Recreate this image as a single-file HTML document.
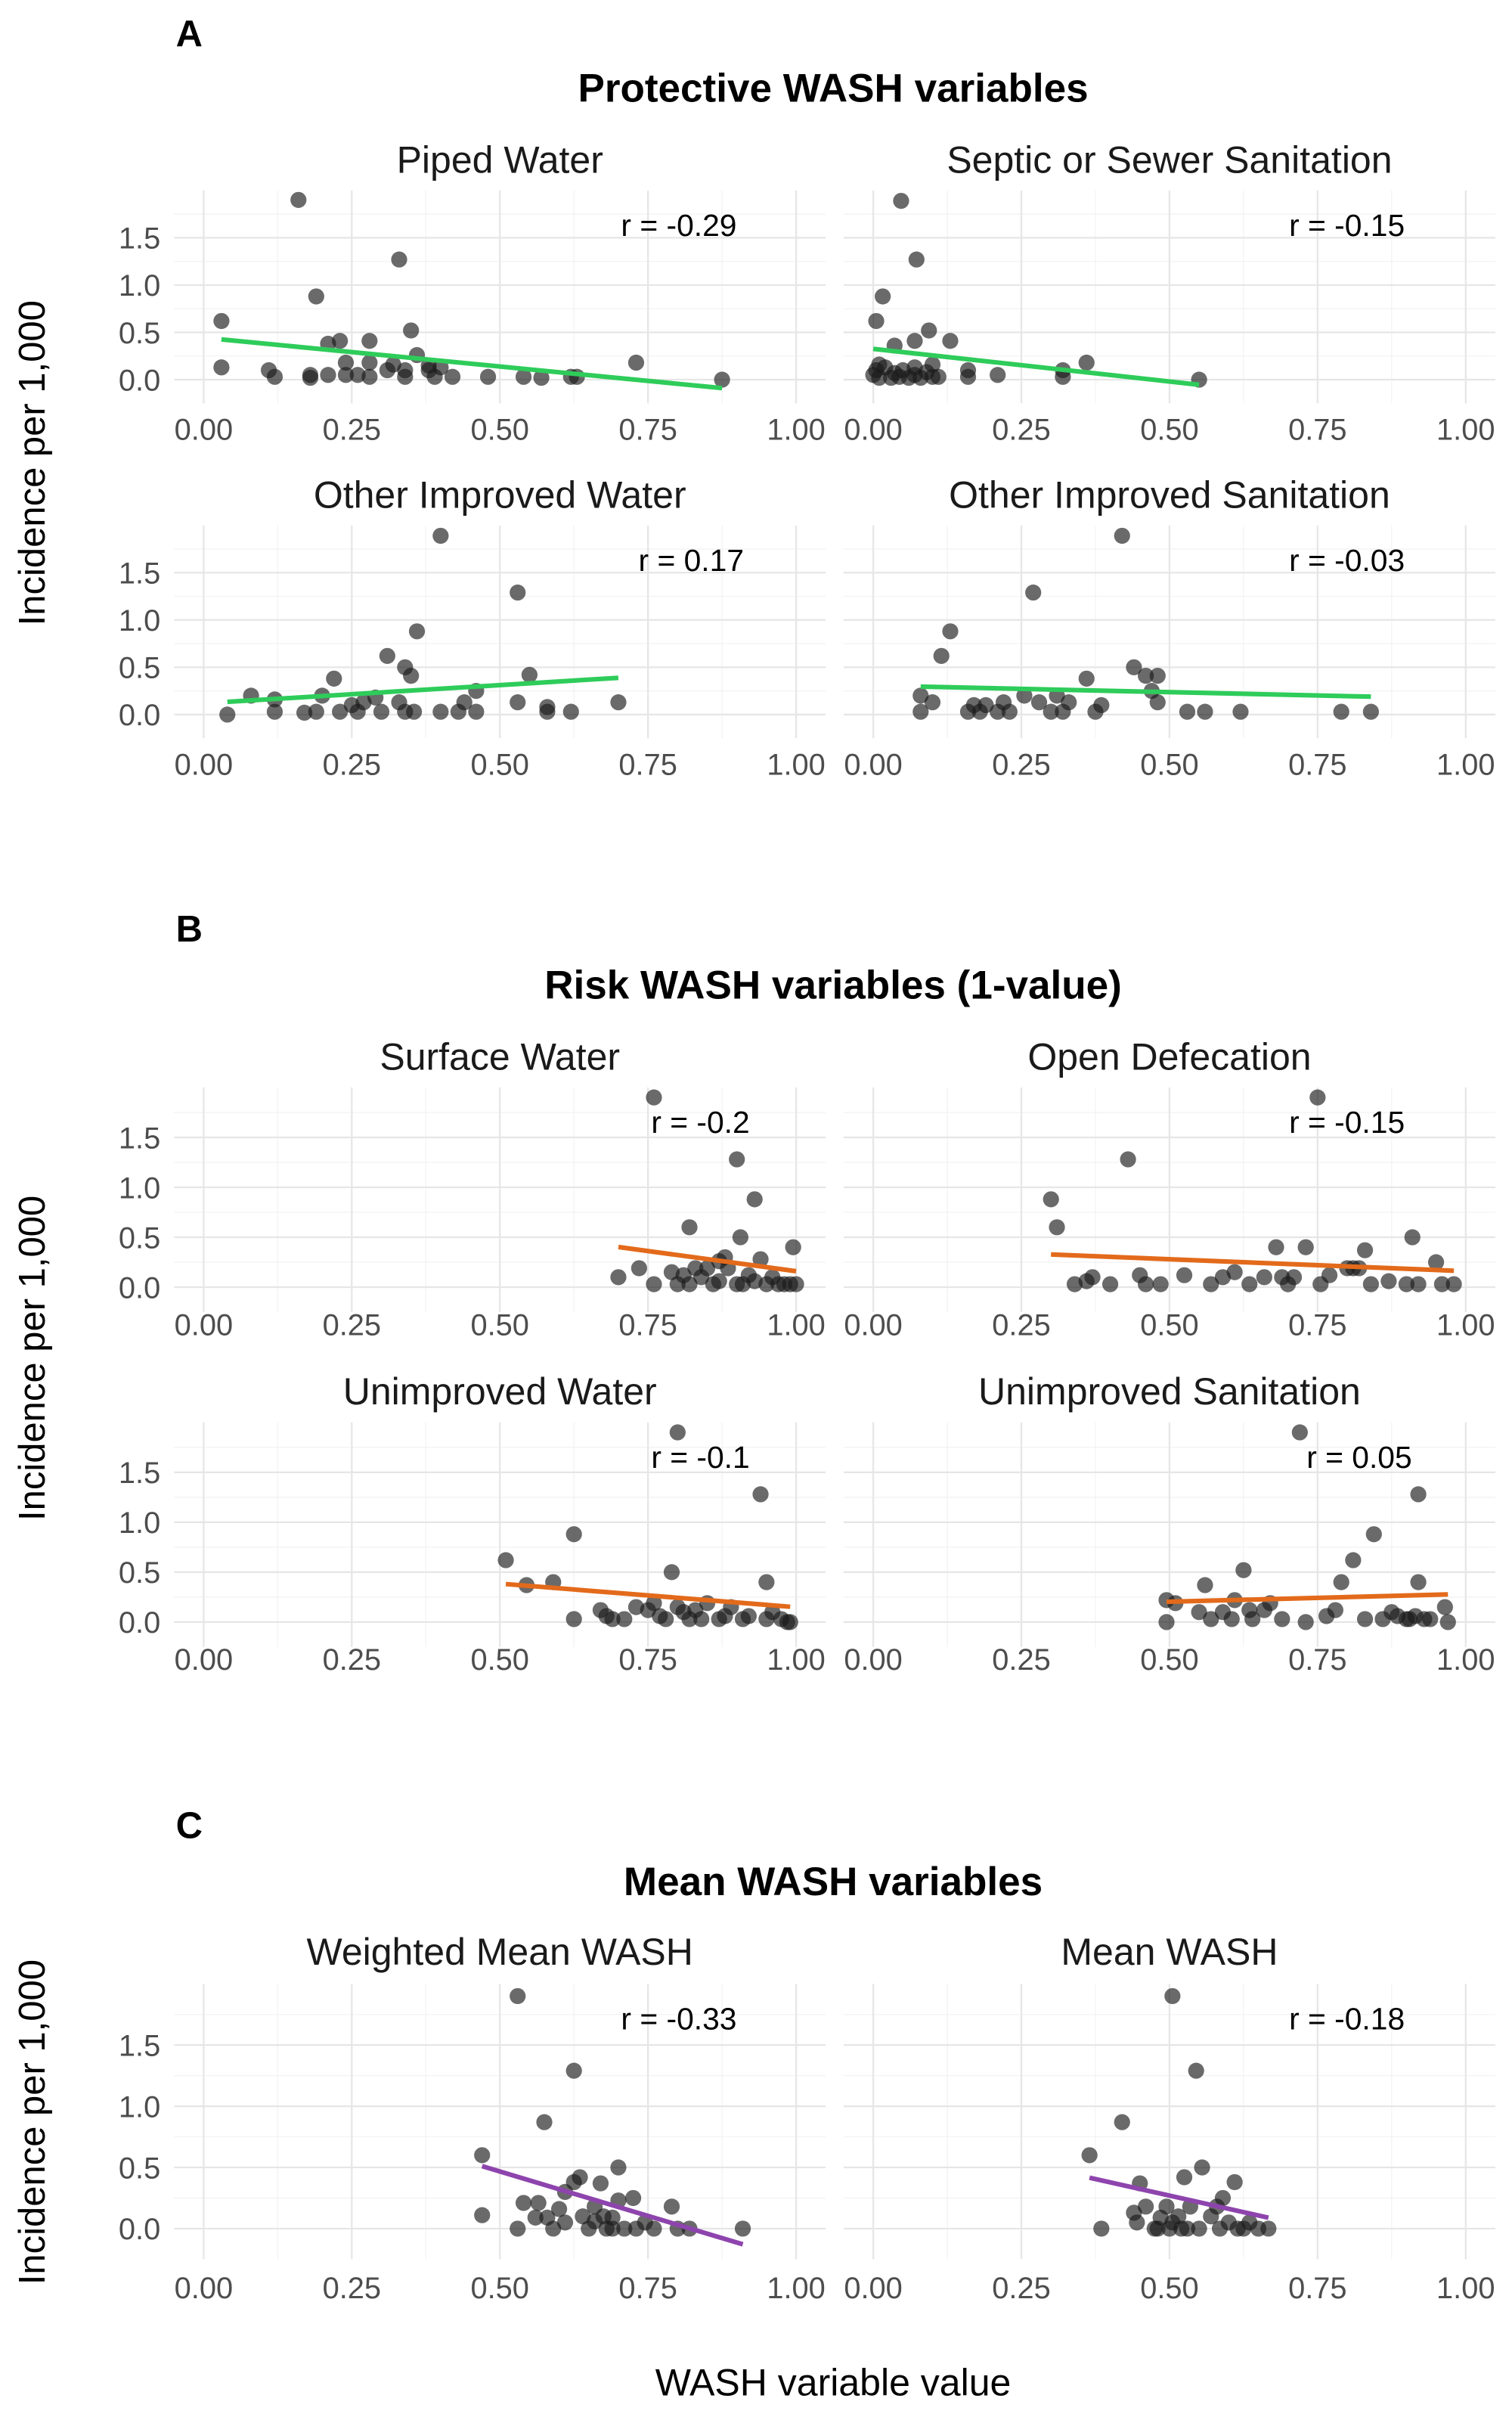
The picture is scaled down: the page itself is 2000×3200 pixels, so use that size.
<!DOCTYPE html>
<html><head><meta charset="utf-8">
<style>
html,body{margin:0;padding:0;background:#fff;}
svg{display:block;font-family:"Liberation Sans",Arial,sans-serif;}
</style></head>
<body>
<svg id="chart" width="2000" height="3200" viewBox="0 0 980 1568" preserveAspectRatio="none" xmlns="http://www.w3.org/2000/svg"></svg>
<script>
// ---------- data ----------
const yTickValues = [0, 0.5, 1.0, 1.5];
const yTickLabels = ["0.0", "0.5", "1.0", "1.5"];
const xTickValues = [0, 0.25, 0.5, 0.75, 1];
const xTickLabels = ["0.00", "0.25", "0.50", "0.75", "1.00"];
const facetTitles = ["Piped Water","Septic or Sewer Sanitation","Other Improved Water","Other Improved Sanitation","Surface Water","Open Defecation","Unimproved Water","Unimproved Sanitation","Weighted Mean WASH","Mean WASH"];
const rLabels = ["r = -0.29","r = -0.15","r = 0.17","r = -0.03","r = -0.2","r = -0.15","r = -0.1","r = 0.05","r = -0.33","r = -0.18"];

const pipedX = [.03,.03,.16,.19,.33,.35,.21,.23,.28,.11,.12,.18,.18,.21,.24,.24,.28,.28,.31,.32,.34,.36,.38,.39,.4,.42,.48,.54,.57,.62,.63,.73,.875,.26,.34,.38];
const pipedY = [.13,.62,1.9,.88,1.27,.52,.38,.41,.41,.1,.03,.05,.02,.05,.05,.18,.18,.03,.1,.16,.03,.26,.1,.03,.13,.03,.03,.03,.02,.03,.03,.18,0,.05,.1,.15];
const septicX = [.047,.073,.016,.005,.036,.07,.094,.13,.16,.21,.32,.36,.55,0,.005,.01,.02,.03,.036,.044,.05,.06,.07,.08,.09,.1,.1,.01,.16,.07,.11,.32];
const septicY = [1.89,1.27,.88,.62,.36,.41,.52,.41,.1,.05,.1,.18,0,.05,.1,.02,.13,.02,.07,.03,.1,.02,.05,.02,.08,.03,.16,.16,.03,.13,.03,.03];
const otherWaterX = [.04,.08,.12,.12,.17,.19,.2,.22,.23,.26,.27,.29,.31,.33,.34,.34,.35,.36,.355,.4,.4,.43,.44,.46,.46,.53,.53,.55,.58,.58,.62,.7,.30,.25];
const otherWaterY = [0,.2,.03,.16,.02,.03,.2,.38,.03,.03,.13,.18,.62,.13,.03,.5,.41,.88,.03,1.89,.03,.03,.13,.03,.25,.13,1.29,.42,.08,.03,.03,.13,.03,.1];
const otherSanX = [.08,.08,.1,.115,.13,.16,.17,.18,.21,.22,.23,.255,.27,.28,.3,.31,.32,.36,.375,.385,.42,.44,.46,.48,.47,.48,.53,.56,.62,.79,.84,.33,.19];
const otherSanY = [.2,.03,.13,.62,.88,.03,.1,.03,.03,.13,.03,.2,1.29,.13,.03,.2,.03,.38,.03,.1,1.89,.5,.41,.41,.25,.13,.03,.03,.03,.03,.03,.13,.1];
const surfaceX = [.7,.735,.76,.76,.8,.81,.82,.83,.85,.86,.87,.88,.885,.9,.9,.906,.91,.93,.93,.94,.95,.96,.97,.98,.99,.995,1,.84,.82,.87,.92,.79];
const surfaceY = [.1,.19,1.9,.03,.03,.12,.6,.19,.19,.03,.06,.3,.19,.03,1.28,.5,.03,.88,.06,.28,.03,.1,.03,.03,.03,.4,.03,.1,.03,.26,.12,.15];
const openDefX = [.3,.31,.43,.75,.34,.36,.37,.4,.45,.46,.485,.57,.59,.61,.635,.66,.68,.69,.71,.73,.755,.77,.8,.81,.82,.83,.84,.87,.9,.91,.92,.95,.96,.98,.525,.7];
const openDefY = [.88,.6,1.28,1.9,.03,.06,.1,.03,.12,.03,.03,.03,.1,.15,.03,.1,.4,.1,.1,.4,.03,.12,.19,.19,.19,.37,.03,.06,.03,.5,.03,.25,.03,.03,.12,.03];
const unimpWaterX = [.51,.545,.59,.625,.625,.67,.68,.69,.71,.73,.75,.77,.78,.79,.8,.8,.82,.83,.84,.85,.87,.88,.89,.91,.92,.94,.95,.95,.96,.975,.985,.99,.81,.76];
const unimpWaterY = [.62,.37,.4,.88,.03,.12,.06,.03,.03,.15,.12,.06,.03,.5,1.9,.15,.03,.12,.03,.19,.03,.06,.15,.03,.06,1.28,.03,.4,.1,.03,0,0,.1,.19];
const unimpSanX = [.495,.495,.51,.55,.56,.57,.59,.605,.61,.625,.635,.66,.67,.69,.72,.73,.765,.78,.79,.81,.83,.845,.86,.875,.885,.9,.905,.915,.92,.92,.93,.94,.965,.97,.64];
const unimpSanY = [.22,0,.19,.1,.37,.03,.1,.03,.22,.52,.12,.12,.19,.03,1.9,0,.06,.12,.4,.62,.03,.88,.03,.1,.06,.03,.03,.06,1.28,.4,.03,.03,.15,0,.03];
const weightedX = [.47,.47,.53,.54,.56,.53,.565,.575,.58,.59,.6,.61,.625,.625,.635,.64,.65,.66,.67,.68,.69,.7,.7,.71,.725,.73,.745,.76,.79,.8,.82,.91,.61,.66,.69,.675];
const weightedY = [.6,.11,1.9,.21,.09,0,.21,.87,.09,0,.16,.3,1.29,.38,.42,.1,0,.18,.37,0,.09,.23,.5,0,.25,0,.05,0,.18,0,0,0,.05,.06,0,.1];
const meanX = [.365,.385,.42,.44,.45,.445,.46,.475,.485,.495,.505,.505,.515,.52,.525,.535,.545,.55,.555,.57,.58,.585,.59,.6,.61,.615,.625,.635,.65,.667,.48,.53,.5];
const meanY = [.6,0,.87,.13,.37,.05,.18,0,.09,.18,1.9,.05,.1,0,.42,.18,1.29,0,.5,.1,.18,0,.25,.05,.38,0,0,.05,0,0,0,0,0];

// ---------- layout ----------
const rows = [
  {y0:246, k:61.3, titleY:104, tickY:278},
  {y0:463, k:61.3, titleY:321, tickY:495},
  {y0:834, k:64.7, titleY:685, tickY:858},
  {y0:1051,k:64.7, titleY:902, tickY:1075},
  {y0:1444,k:79.3, titleY:1265,tickY:1482}
];
const cols = [{x0:132},{x0:566}];
const XS = 384;
const rLabelOffsets = [308,307,316,307,322,307,322,315,308,307];
const lineColors = ["#2ECC5A","#2ECC5A","#2ECC5A","#2ECC5A","#E36A1B","#E36A1B","#E36A1B","#E36A1B","#8E44AD","#8E44AD"];
const facetData = [[pipedX,pipedY],[septicX,septicY],[otherWaterX,otherWaterY],[otherSanX,otherSanY],[surfaceX,surfaceY],[openDefX,openDefY],[unimpWaterX,unimpWaterY],[unimpSanX,unimpSanY],[weightedX,weightedY],[meanX,meanY]];

const svg = document.getElementById('chart');
const NS = "http://www.w3.org/2000/svg";
function mk(tag, attrs, parent){ const e=document.createElementNS(NS,tag); for(const a in attrs) e.setAttribute(a,attrs[a]); (parent||svg).appendChild(e); return e; }
function txt(s, attrs, parent){ const e=mk('text',attrs,parent); e.textContent=s; return e; }

const heads = [["A","Protective WASH variables",22,57,300],["B","Risk WASH variables (1-value)",602,638,880],["C","Mean WASH variables",1183,1219,1375]];
heads.forEach((h,i)=>{
  const l = txt(h[0],{x:114,y:h[2]+8,'font-size':24,'font-weight':'bold',fill:'#000'});
  
  
  const t = txt(h[1],{x:540,y:h[3]+9,'font-size':26,'font-weight':'bold','text-anchor':'middle',fill:'#000'});
  
  
  const yt = txt("Incidence per 1,000",{x:0,y:0,'font-size':24,'text-anchor':'middle',fill:'#000',transform:`translate(29,${h[4]}) rotate(-90)`});
  
  
});
const xt = txt("WASH variable value",{x:540,y:1552,'font-size':24.5,'text-anchor':'middle',fill:'#000'});



facetData.forEach((fd,fi)=>{
  const row = rows[Math.floor(fi/2)], col = cols[fi%2];
  const xs = fd[0], ys = fd[1];
  const X = v => col.x0 + v*XS;
  const Y = v => row.y0 - v*row.k;
  const g = mk('g',{});
  
  
  const top = Y(2.0), bot = Y(-0.25), left = X(-0.05), right = X(1.05);
  for(let v=0.25; v<2; v+=0.5){ mk('line',{x1:left,x2:right,y1:Y(v),y2:Y(v),stroke:'#F2F2F2','stroke-width':0.6},g); }
  for(let v=0.125; v<1; v+=0.25){ mk('line',{x1:X(v),x2:X(v),y1:top,y2:bot,stroke:'#F2F2F2','stroke-width':0.6},g); }
  yTickValues.forEach(v=>mk('line',{x1:left,x2:right,y1:Y(v),y2:Y(v),stroke:'#E6E6E6','stroke-width':1.1},g));
  xTickValues.forEach(v=>mk('line',{x1:X(v),x2:X(v),y1:top,y2:bot,stroke:'#E6E6E6','stroke-width':1.1},g));
  xTickValues.forEach((v,i)=>{ const t=txt(xTickLabels[i],{x:X(v),y:row.tickY+7,'font-size':19.5,'text-anchor':'middle',fill:'#4D4D4D'},g);
      });
  if(fi%2===0){ yTickValues.forEach((v,i)=>{ const t=txt(yTickLabels[i],{x:104,y:Y(v)+7,'font-size':19.5,'text-anchor':'end',fill:'#4D4D4D'},g);
      }); }
  const ft = txt(facetTitles[fi],{x:col.x0+192,y:row.titleY+8,'font-size':24.5,'text-anchor':'middle',fill:'#1A1A1A'},g);
  
  
  xs.forEach((xv,i)=>{
    const c = mk('circle',{cx:X(xv),cy:Y(ys[i]),r:5.2,fill:'#1a1a1a','fill-opacity':0.65},g);
    
    
  });
  const n=xs.length; let mx=0,my=0; xs.forEach((v,i)=>{mx+=v;my+=ys[i];}); mx/=n; my/=n;
  let sxy=0,sxx=0; xs.forEach((v,i)=>{sxy+=(v-mx)*(ys[i]-my); sxx+=(v-mx)*(v-mx);});
  const b=sxy/sxx, a=my-b*mx;
  const xmin=Math.min(...xs), xmax=Math.max(...xs);
  const ln = mk('line',{x1:X(xmin),y1:Y(a+b*xmin),x2:X(xmax),y2:Y(a+b*xmax),stroke:lineColors[fi],'stroke-width':3},g);
  
  
  const rl = txt(rLabels[fi],{x:col.x0+rLabelOffsets[fi],y:row.y0-100+7,'font-size':20,'text-anchor':'middle',fill:'#000'},g);
  if(fi>=8) rl.setAttribute('y', row.y0-136+7);
  else if(fi>=4) rl.setAttribute('y', row.y0-107+7);
  
  
});
</script>
</body></html>
